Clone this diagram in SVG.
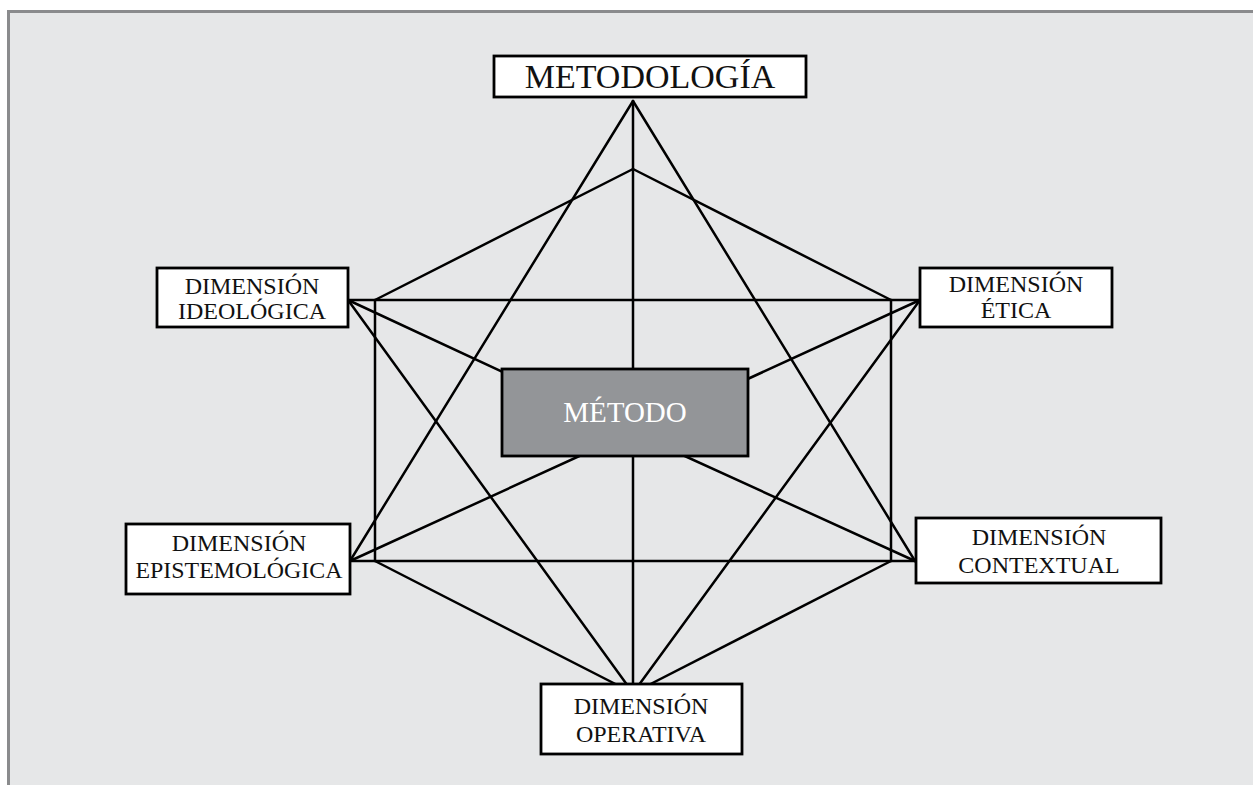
<svg xmlns="http://www.w3.org/2000/svg" width="1253" height="785" viewBox="0 0 1253 785">
<style>
.ln{stroke:#000;stroke-width:2.5;fill:none;stroke-linecap:round}
.bx{fill:#fff;stroke:#000;stroke-width:2.8}
.t{font-family:"Liberation Serif","Times New Roman",serif;font-size:24px;fill:#111;text-anchor:middle}
</style>
<rect x="0" y="0" width="1253" height="785" fill="#fff"/>
<rect x="8.5" y="11.5" width="1260" height="790" fill="#e6e7e8" stroke="#8a8b8d" stroke-width="3"/>
<g id="connectors">
<line class="ln" x1="633" y1="101" x2="350" y2="561"/>
<line class="ln" x1="633" y1="101" x2="915" y2="561"/>
<line class="ln" x1="633" y1="101" x2="633" y2="693"/>
<line class="ln" x1="348" y1="300" x2="633" y2="693"/>
<line class="ln" x1="920" y1="300" x2="633" y2="693"/>
<line class="ln" x1="633" y1="169" x2="375" y2="300"/>
<line class="ln" x1="633" y1="169" x2="891" y2="300"/>
<line class="ln" x1="348" y1="300" x2="920" y2="300"/>
<line class="ln" x1="350" y1="561" x2="915" y2="561"/>
<line class="ln" x1="375" y1="300" x2="375" y2="561"/>
<line class="ln" x1="891" y1="300" x2="891" y2="561"/>
<line class="ln" x1="375" y1="561" x2="633" y2="693"/>
<line class="ln" x1="891" y1="561" x2="633" y2="693"/>
<line class="ln" x1="348" y1="300" x2="632" y2="432"/>
<line class="ln" x1="920" y1="300" x2="632" y2="432"/>
<line class="ln" x1="350" y1="561" x2="632" y2="432"/>
<line class="ln" x1="915" y1="561" x2="632" y2="432"/>
</g>
<g id="metodologia">
<rect class="bx" x="494" y="56" width="312" height="41"/>
<text class="t" x="650" y="88" style="font-size:34px">METODOLOGÍA</text>
</g>
<g id="metodo">
<rect x="502" y="369" width="246" height="87" fill="#939598" stroke="#000" stroke-width="2.8"/>
<text class="t" x="625" y="422" style="font-size:29px;fill:#fff">MÉTODO</text>
</g>
<g id="ideologica">
<rect class="bx" x="157" y="268" width="191" height="59"/>
<text class="t" x="252" y="294">DIMENSIÓN</text>
<text class="t" x="252" y="319">IDEOLÓGICA</text>
</g>
<g id="etica">
<rect class="bx" x="920" y="268" width="192" height="59"/>
<text class="t" x="1016" y="292">DIMENSIÓN</text>
<text class="t" x="1016" y="318">ÉTICA</text>
</g>
<g id="epistemologica">
<rect class="bx" x="126" y="524" width="224" height="70"/>
<text class="t" x="239" y="551">DIMENSIÓN</text>
<text class="t" x="239" y="578" textLength="207" lengthAdjust="spacingAndGlyphs">EPISTEMOLÓGICA</text>
</g>
<g id="contextual">
<rect class="bx" x="916" y="518" width="245" height="65"/>
<text class="t" x="1039" y="545">DIMENSIÓN</text>
<text class="t" x="1039" y="573">CONTEXTUAL</text>
</g>
<g id="operativa">
<rect class="bx" x="541" y="684" width="201" height="70"/>
<text class="t" x="641" y="714">DIMENSIÓN</text>
<text class="t" x="641" y="742">OPERATIVA</text>
</g>
</svg>
